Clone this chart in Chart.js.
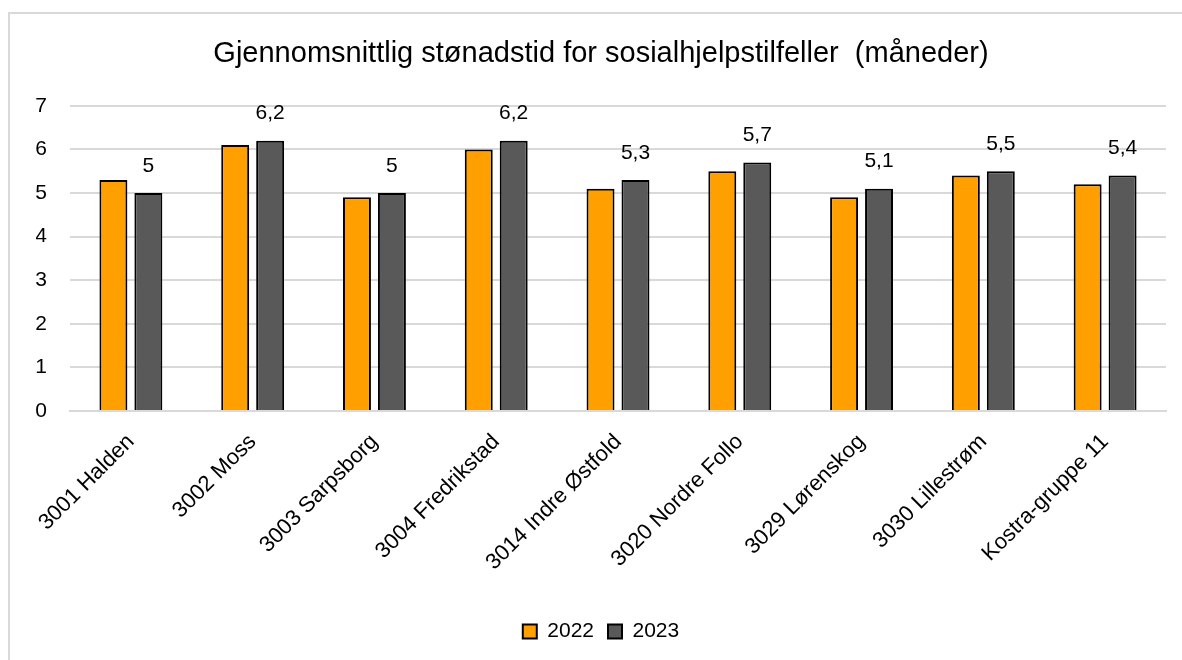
<!DOCTYPE html>
<html>
<head>
<meta charset="utf-8">
<script src="https://cdn.jsdelivr.net/npm/chart.js@4"></script>
<style>
  html, body { margin: 0; padding: 0; background: #fff; overflow: hidden; }
  #frame { position: absolute; left: 8px; top: 12px; width: 1182px; height: 660px; border: 2px solid #d9d9d9; }
  #wrap { position: absolute; left: 0; top: 0; width: 1172px; height: 646px; }
</style>
</head>
<body>
<div id="frame"><div id="wrap"><canvas id="myChart"></canvas></div></div>
<script>
var categories = ['3001 Halden', '3002 Moss', '3003 Sarpsborg', '3004 Fredrikstad', '3014 Indre Østfold',
  '3020 Nordre Follo', '3029 Lørenskog', '3030 Lillestrøm', 'Kostra-gruppe 11'];
var values2022 = [5.3, 6.1, 4.9, 6.0, 5.1, 5.5, 4.9, 5.4, 5.2];
var values2023 = [5.0, 6.2, 5.0, 6.2, 5.3, 5.7, 5.1, 5.5, 5.4];
var yTicks = [0, 1, 2, 3, 4, 5, 6, 7];

var fontFamily = "'Liberation Sans', Arial, sans-serif";

// etiketter over 2023-søylene
var labelPlugin = {
  id: 'labels2023',
  afterDatasetsDraw: function(chart) {
    var ctx = chart.ctx;
    var meta = chart.getDatasetMeta(1);
    ctx.save();
    ctx.font = '21px ' + fontFamily;
    ctx.fillStyle = '#000';
    ctx.textAlign = 'center';
    ctx.textBaseline = 'middle';
    for (var i = 0; i < meta.data.length; i++) {
      var bar = meta.data[i];
      var txt = String(values2023[i]).replace('.', ',');
      ctx.fillText(txt, bar.x, bar.y - 27);
    }
    ctx.restore();
  }
};

var ctx = document.getElementById('myChart').getContext('2d');
var chart = new Chart(ctx, {
  type: 'bar',
  data: {
    labels: categories,
    datasets: [{
      label: '2022',
      data: values2022,
      backgroundColor: '#FFA000',
      borderColor: '#000',
      borderWidth: 2,
      categoryPercentage: 0.574,
      barPercentage: 0.8
    }, {
      label: '2023',
      data: values2023,
      backgroundColor: '#595959',
      borderColor: '#000',
      borderWidth: 2,
      categoryPercentage: 0.574,
      barPercentage: 0.8
    }]
  },
  options: {
    responsive: true,
    maintainAspectRatio: false,
    animation: false,
    layout: { padding: { left: 26, right: 16, top: 0, bottom: 8 } },
    plugins: {
      title: {
        display: true,
        text: 'Gjennomsnittlig stønadstid for sosialhjelpstilfeller  (måneder)',
        color: '#000',
        font: { family: fontFamily, size: 29, weight: 'normal' },
        padding: { top: 23, bottom: 34 }
      },
      legend: {
        position: 'bottom',
        labels: {
          color: '#000',
          font: { family: fontFamily, size: 21 },
          boxWidth: 14,
          boxHeight: 14,
          padding: 14
        }
      },
      tooltip: { enabled: false }
    },
    scales: {
      x: {
        grid: { display: false },
        border: { color: '#d9d9d9', width: 2 },
        ticks: {
          color: '#000',
          font: { family: fontFamily, size: 22 },
          maxRotation: 45,
          minRotation: 45,
          padding: 10
        },
        afterFit: function(scale) { scale.height = 196; }
      },
      y: {
        min: 0,
        max: 7,
        afterBuildTicks: function(scale) {
          scale.ticks = yTicks.map(function(v) { return { value: v }; });
        },
        grid: { color: '#d9d9d9', lineWidth: 2, drawTicks: false },
        border: { display: false },
        ticks: {
          color: '#000',
          font: { family: fontFamily, size: 21 },
          padding: 23
        },
        afterFit: function(scale) { scale.width = 34; }
      }
    }
  },
  plugins: [labelPlugin]
});
</script>
</body>
</html>
